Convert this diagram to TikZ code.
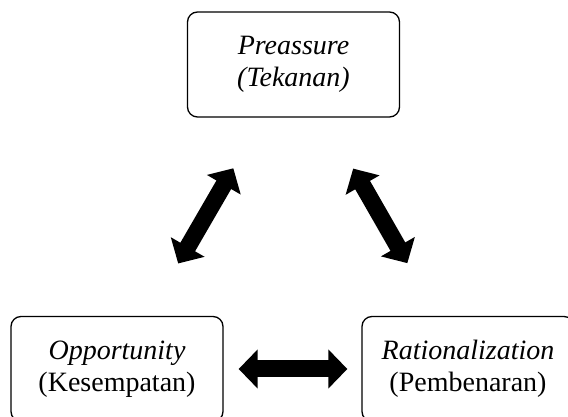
\documentclass[tikz,border=0pt]{standalone}
\usepackage{fontspec}
\setmainfont{Liberation Serif}
\usetikzlibrary{arrows.meta}
\usetikzlibrary{positioning}

\tikzset{
  box/.style={draw, line width=1.3pt, rounded corners=10pt, minimum width=212pt,
    minimum height=105pt, align=center, font=\fontsize{28}{32}\selectfont},
  fat/.style={line width=17pt, {Triangle[length=19pt,width=38pt]}-{Triangle[length=19pt,width=38pt]}}
}

\begin{document}
\begin{tikzpicture}[x=1pt, y=1pt]
            \useasboundingbox (0,0) rectangle (568,417);
            \clip (0,0) rectangle (568,417);
            \node[box] (pressure) at (293.5,352.5) {\textit{Preassure}\\\textit{(Tekanan)}};
            \node[box] (opportunity) at (117,48) {\textit{Opportunity}\\(Kesempatan)};
            \node[box] (rational) at (468,48) {\textit{Rationalization}\\(Pembenaran)};
            
            \draw[fat, shorten <=122pt, shorten >=120pt] (opportunity.center) -- (pressure.center);
            \draw[fat, shorten <=122pt, shorten >=120pt] (rational.center) -- (pressure.center);
            \draw[fat, shorten <=15pt, shorten >=14pt] (opportunity.east) -- (rational.west);
        \end{tikzpicture}
\end{document}
